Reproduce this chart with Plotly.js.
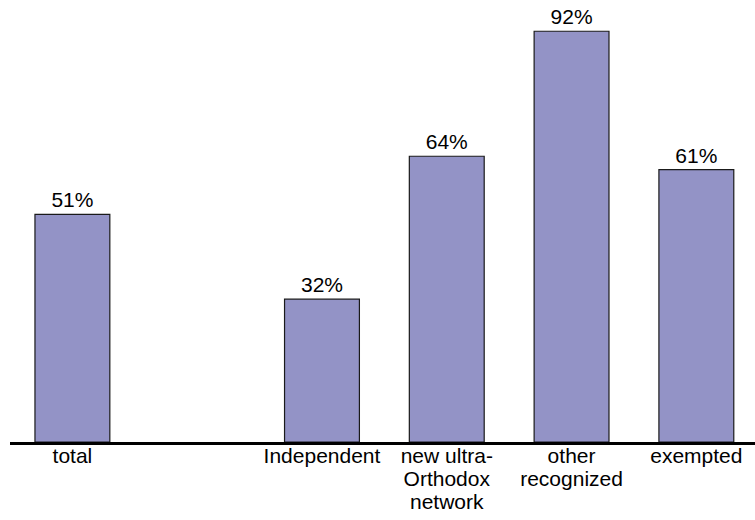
<!DOCTYPE html>
<html>
<head>
<meta charset="utf-8">
<script src="https://cdn.plot.ly/plotly-3.0.1.min.js"></script>
<style>
  html, body { margin: 0; padding: 0; background: #fff; }
  #chart { width: 755px; height: 520px; }
</style>
</head>
<body>
<div id="chart"></div>
<script>
// Categories along the x axis (an empty slot separates the total from the school types)
const categories = ['total', ' ', 'Independent', 'new ultra-<br>Orthodox<br>network', 'other<br>recognized', 'exempted'];
// Share of each group, in percent (null = empty slot)
const values = [51, null, 32, 64, 92, 61];
const valueLabels = values.map(v => (v === null ? '' : v + '%'));

const FONT = 'Liberation Sans, Arial, sans-serif';
// Line spacing wanted for the wrapped category labels (Plotly's default is 1.3em)
const LABEL_LINE_SPACING = 1.1;

const trace = {
  type: 'bar',
  x: categories,
  y: values,
  text: valueLabels,
  textposition: 'outside',
  cliponaxis: false,
  textfont: { family: FONT, size: 21, color: '#000' },
  marker: {
    color: '#9393c6',
    line: { color: '#1a1a1a', width: 1.2 }
  },
  hoverinfo: 'skip'
};

const layout = {
  width: 755,
  height: 520,
  margin: { l: 10, r: 0, t: 0, b: 78 },
  paper_bgcolor: '#fff',
  plot_bgcolor: '#fff',
  showlegend: false,
  bargap: 0.4,
  font: { family: FONT, size: 21, color: '#000' },
  xaxis: {
    type: 'category',
    range: [-0.5, 5.47],
    showline: true,
    linecolor: '#000',
    linewidth: 3,
    ticks: '',
    ticklabelstandoff: -7,
    showgrid: false,
    zeroline: false,
    tickfont: { family: FONT, size: 21, color: '#000' },
    fixedrange: true
  },
  yaxis: {
    range: [0, 99],
    visible: false,
    showgrid: false,
    zeroline: false,
    fixedrange: true
  }
};

Plotly.newPlot('chart', [trace], layout, { displayModeBar: false, staticPlot: true }).then(gd => {
  // tighten the spacing between the lines of the wrapped category labels
  gd.querySelectorAll('.xtick text tspan.line').forEach(t => {
    const dy = t.getAttribute('dy');
    if (dy && dy.endsWith('em')) {
      const n = parseFloat(dy);
      t.setAttribute('dy', (n * LABEL_LINE_SPACING / 1.3) + 'em');
    }
  });
});
</script>
</body>
</html>
